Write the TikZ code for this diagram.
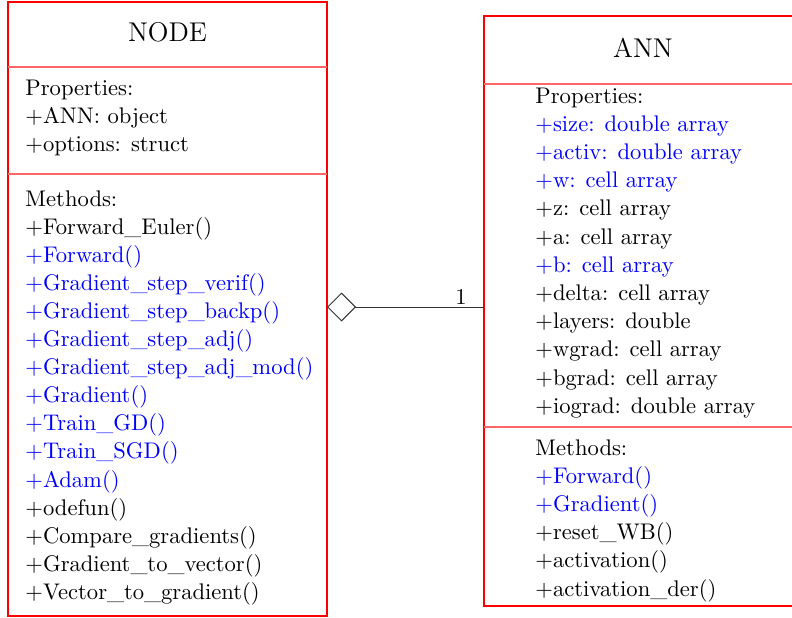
\documentclass[tikz,border=0pt]{standalone}
\usetikzlibrary{arrows.meta}
\begin{document}
\begin{tikzpicture}[x=1pt,y=-1pt,
  txt/.style={anchor=base west, inner sep=0pt, font=\fontsize{10}{12}\selectfont, scale=2.26},
  ttl/.style={inner sep=0pt, font=\large, scale=2.26},
  umlbox/.style={draw=red, line width=1.6pt, outer sep=0pt, inner sep=0pt},
  sepline/.style={draw=red!60, line width=1.2pt},
  assoc/.style={draw=black!80, line width=1pt}]
\clip (0,0) rectangle (792,618);
% NODE class
\node[umlbox, minimum width=319pt, minimum height=614pt] (nodebox) at (167.5,309) {};
\node[ttl] (nodetitle) at (167.5,32) {NODE};
\draw[sepline] (nodebox.west |- 0,67) -- (nodebox.east |- 0,67);
\draw[sepline] (nodebox.west |- 0,174) -- (nodebox.east |- 0,174);
\foreach \t [count=\i from 0] in {Properties:, $+$ANN: object, $+$options: struct}
  \node[txt] (np\i) at (25,95+28*\i) {\t};
\foreach \t [count=\i from 0] in {Methods:, $+$Forward\_Euler(), {\color{blue}$+$Forward()},
  {\color{blue}$+$Gradient\_step\_verif()}, {\color{blue}$+$Gradient\_step\_backp()},
  {\color{blue}$+$Gradient\_step\_adj()}, {\color{blue}$+$Gradient\_step\_adj\_mod()},
  {\color{blue}$+$Gradient()}, {\color{blue}$+$Train\_GD()}, {\color{blue}$+$Train\_SGD()},
  {\color{blue}$+$Adam()}, $+$odefun(), $+$Compare\_gradients(),
  $+$Gradient\_to\_vector(), $+$Vector\_to\_gradient()}
  \node[txt] (nm\i) at (25,206+28.1*\i) {\t};
% ANN class
\node[umlbox, minimum width=318pt, minimum height=590pt] (annbox) at (643,311) {};
\node[ttl] (anntitle) at (643,48) {ANN};
\draw[sepline] (annbox.west |- 0,84) -- (annbox.east |- 0,84);
\draw[sepline] (annbox.west |- 0,427) -- (annbox.east |- 0,427);
\foreach \t [count=\i from 0] in {Properties:, {\color{blue}$+$size: double array},
  {\color{blue}$+$activ: double array}, {\color{blue}$+$w: cell array},
  $+$z: cell array, $+$a: cell array, {\color{blue}$+$b: cell array},
  $+$delta: cell array, $+$layers: double, $+$wgrad: cell array,
  $+$bgrad: cell array, $+$iograd: double array}
  \node[txt] (ap\i) at (535,103+28.2*\i) {\t};
\foreach \t [count=\i from 0] in {Methods:, {\color{blue}$+$Forward()},
  {\color{blue}$+$Gradient()}, $+$reset\_WB(), $+$activation(), $+$activation\_der()}
  \node[txt] (am\i) at (535,455+28.2*\i) {\t};
% aggregation
\draw[assoc, -{Diamond[open, length=29pt, width=29pt, line width=1pt]}]
  (annbox.west |- 0,307) -- (nodebox.east |- 0,307);
\node[txt, anchor=base] (mult) at (461,304) {1};
\end{tikzpicture}
\end{document}
